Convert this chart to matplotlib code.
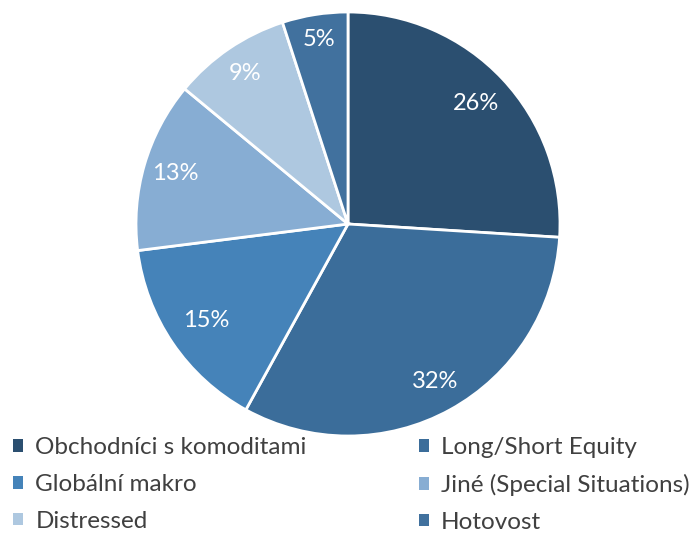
import matplotlib.pyplot as plt
from matplotlib.patches import Patch

labels = ["Obchodníci s komoditami", "Long/Short Equity", "Globální makro",
          "Jiné (Special Situations)", "Distressed", "Hotovost"]
shares = [26, 32, 15, 13, 9, 5]
colors = ["#2B4F70", "#3B6D9A", "#4583B9", "#87ADD3", "#AEC8E0", "#41719E"]
label_radius = [0.83, 0.85, 0.81, 0.85, 0.86, 0.88]

plt.rcParams['font.family'] = ['Lato', 'DejaVu Sans']

W, H = 691, 533
fig = plt.figure(figsize=(W / 100, H / 100), dpi=100)

cx, cy, r = 348, 224, 212
ax = fig.add_axes([(cx - r) / W, (H - cy - r) / H, 2 * r / W, 2 * r / H])
wedges, texts = ax.pie(shares, colors=colors, startangle=90, counterclock=False,
                       labels=[f"{v}%" for v in shares], labeldistance=0.83,
                       wedgeprops=dict(edgecolor="white", linewidth=2))
for t, d in zip(texts, label_radius):
    x, y = t.get_position()
    t.set_position((x * d / 0.83, y * d / 0.83))
    t.set_color("white")
    t.set_fontsize(17)
    t.set_ha("center")
    t.set_va("center")
ax.set_xlim(-1.0, 1.0)
ax.set_ylim(-1.0, 1.0)
ax.set_aspect("equal")
ax.axis("off")

# legend is filled row by row
order = [0, 2, 4, 1, 3, 5]
handles = [Patch(facecolor=colors[i], label=labels[i]) for i in order]
fig.legend(handles=handles, ncol=2, loc="center left",
           bbox_to_anchor=(13 / W, (H - 485) / H), frameon=False,
           borderpad=0, borderaxespad=0,
           fontsize=17.5, handlelength=0.42, handleheight=0.42, handletextpad=0.5,
           columnspacing=4.6, labelspacing=0.64, labelcolor="#404040")

fig.savefig("out.png", dpi=100)
